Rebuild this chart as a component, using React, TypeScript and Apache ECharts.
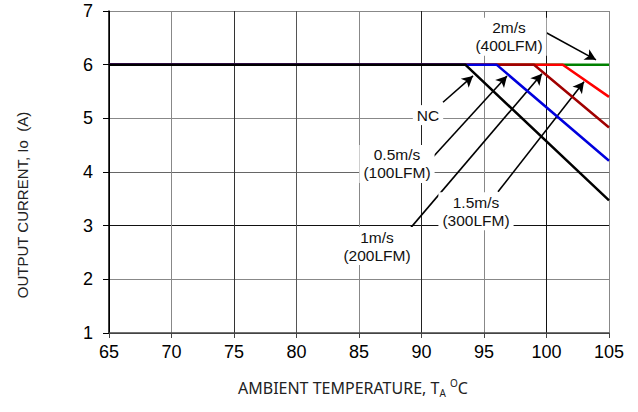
import React, { useEffect, useRef } from "react";
import * as echarts from "echarts";

// ---- data ----
const seriesNames = ["2m/s (400LFM)", "1.5m/s (300LFM)", "1m/s (200LFM)", "0.5m/s (100LFM)", "NC"];
const seriesColors = ["#008000", "#ff0000", "#a00000", "#0000dd", "#000000"];
const startTemp = 65;
const endTemp = 105;
const ratedCurrent = 6;
const kneeTemp = [105, 101.3, 99.0, 96.0, 93.5];
const endCurrent = [6.0, 5.4, 4.83, 4.21, 3.47];

const xTicks = [65, 70, 75, 80, 85, 90, 95, 100, 105];
const yTicks = [1, 2, 3, 4, 5, 6, 7];

// annotations (data coordinates)
const noteTexts = ["NC", "0.5m/s\n(100LFM)", "1m/s\n(200LFM)", "1.5m/s\n(300LFM)", "2m/s\n(400LFM)"];
const noteAt = [
  [90.52, 5.06],
  [88.04, 4.15],
  [86.44, 2.62],
  [94.36, 3.27],
  [97.0, 6.52],
];
const arrowFrom = [
  [91.72, 5.3],
  [90.92, 4.28],
  [88.84, 2.88],
  [96.12, 3.63],
  [99.48, 6.66],
];
const arrowTo = [
  [94.12, 5.79],
  [96.84, 5.79],
  [99.64, 5.83],
  [103.0, 5.68],
  [103.96, 6.09],
];

const xGridColors = ["#000", "#888", "#333", "#555", "#888", "#222", "#888", "#111", "#888"];
const yGridColors = ["#444", "#888", "#111", "#666", "#888", "#888", "#888"];

export default function App() {
  const ref = useRef<HTMLDivElement>(null);
  useEffect(() => {
    if (!ref.current) return;
    const chart = echarts.init(ref.current, null, { renderer: "svg" });
    const lineSeries: any[] = seriesNames.map((name, i) => ({
      name,
      type: "line",
      data: [
        [startTemp, ratedCurrent],
        [kneeTemp[i], ratedCurrent],
        [endTemp, endCurrent[i]],
      ],
      symbol: "none",
      z: 10 + i,
      lineStyle: { color: seriesColors[i], width: 2.5 },
    }));
    const ncIdx = seriesNames.length - 1;
    const shadowSeries = {
      name: "shadow",
      type: "line",
      data: [
        [startTemp, ratedCurrent],
        [kneeTemp[ncIdx], ratedCurrent],
      ],
      symbol: "none",
      z: 9,
      lineStyle: {
        color: "#000",
        width: 2.5,
        shadowColor: "rgba(110,100,70,0.5)",
        shadowBlur: 3,
        shadowOffsetY: 3,
      },
    };
    const arrowSeries = {
      name: "arrows",
      type: "line",
      data: [],
      z: 20,
      silent: true,
      markLine: {
        silent: true,
        symbol: ["none", "arrow"],
        symbolSize: [9, 11],
        label: { show: false },
        lineStyle: { color: "#000", width: 1.6, type: "solid" },
        emphasis: { disabled: true },
        data: arrowFrom.map((f, i) => [{ coord: f }, { coord: arrowTo[i] }]),
      },
    };
    const option: any = {
      animation: false,
      grid: { left: 109, right: 29, top: 11, bottom: 79 },
      xAxis: {
        type: "value",
        min: xTicks[0],
        max: xTicks[xTicks.length - 1],
        interval: 5,
        axisLine: { show: true, onZero: false, lineStyle: { color: "#444", width: 1.5 } },
        axisTick: { show: true, length: 5, lineStyle: { color: "#444" } },
        axisLabel: { color: "#000", fontSize: 18, fontFamily: "Liberation Sans", margin: 10 },
        splitLine: { show: true, lineStyle: { color: xGridColors, width: 1 } },
      },
      yAxis: {
        type: "value",
        min: yTicks[0],
        max: yTicks[yTicks.length - 1],
        interval: 1,
        axisLine: { show: true, onZero: false, lineStyle: { color: "#000", width: 1.5 } },
        axisTick: { show: true, length: 6, lineStyle: { color: "#000" } },
        axisLabel: { color: "#000", fontSize: 18, fontFamily: "Liberation Sans", margin: 16 },
        splitLine: { show: true, lineStyle: { color: yGridColors, width: 1 } },
      },
      series: [shadowSeries, ...lineSeries, arrowSeries],
    };
    chart.setOption(option);

    const notes = noteTexts.map((t, i) => {
      const p = chart.convertToPixel({ gridIndex: 0 }, noteAt[i]) as number[];
      return {
        type: "text",
        x: p[0],
        y: p[1],
        z: 5,
        silent: true,
        style: {
          text: t,
          align: "center",
          verticalAlign: "middle",
          fontSize: 15.5,
          lineHeight: 18,
          fontFamily: "Liberation Sans",
          fill: "#111",
          backgroundColor: "#fff",
          padding: [1, 4],
        },
      };
    });
    chart.setOption({
      graphic: [
        ...notes,
        {
          type: "text",
          x: 22,
          y: 205,
          rotation: Math.PI / 2,
          silent: true,
          style: {
            text: "OUTPUT CURRENT, Io  (A)",
            align: "center",
            verticalAlign: "middle",
            fontSize: 15,
            fontFamily: "Liberation Sans",
            fill: "#222",
          },
        },
        {
          type: "text",
          x: 238,
          y: 388,
          silent: true,
          style: {
            text: "{a|AMBIENT TEMPERATURE, T}{s|A}{a| }{p|O}{a|C}",
            align: "left",
            verticalAlign: "middle",
            rich: {
              a: { fontSize: 16, fontFamily: "Noto Sans", fill: "#222", lineHeight: 20 },
              s: { fontSize: 10, fontFamily: "Noto Sans", fill: "#222", lineHeight: 12, verticalAlign: "bottom" },
              p: { fontSize: 10, fontFamily: "Noto Sans", fill: "#222", lineHeight: 12, verticalAlign: "top" },
            },
          },
        },
      ],
    });
    return () => chart.dispose();
  }, []);
  return (
    <div
      ref={ref}
      style={{ position: "fixed", left: 0, top: 0, width: 638, height: 412, background: "#fff" }}
    />
  );
}
